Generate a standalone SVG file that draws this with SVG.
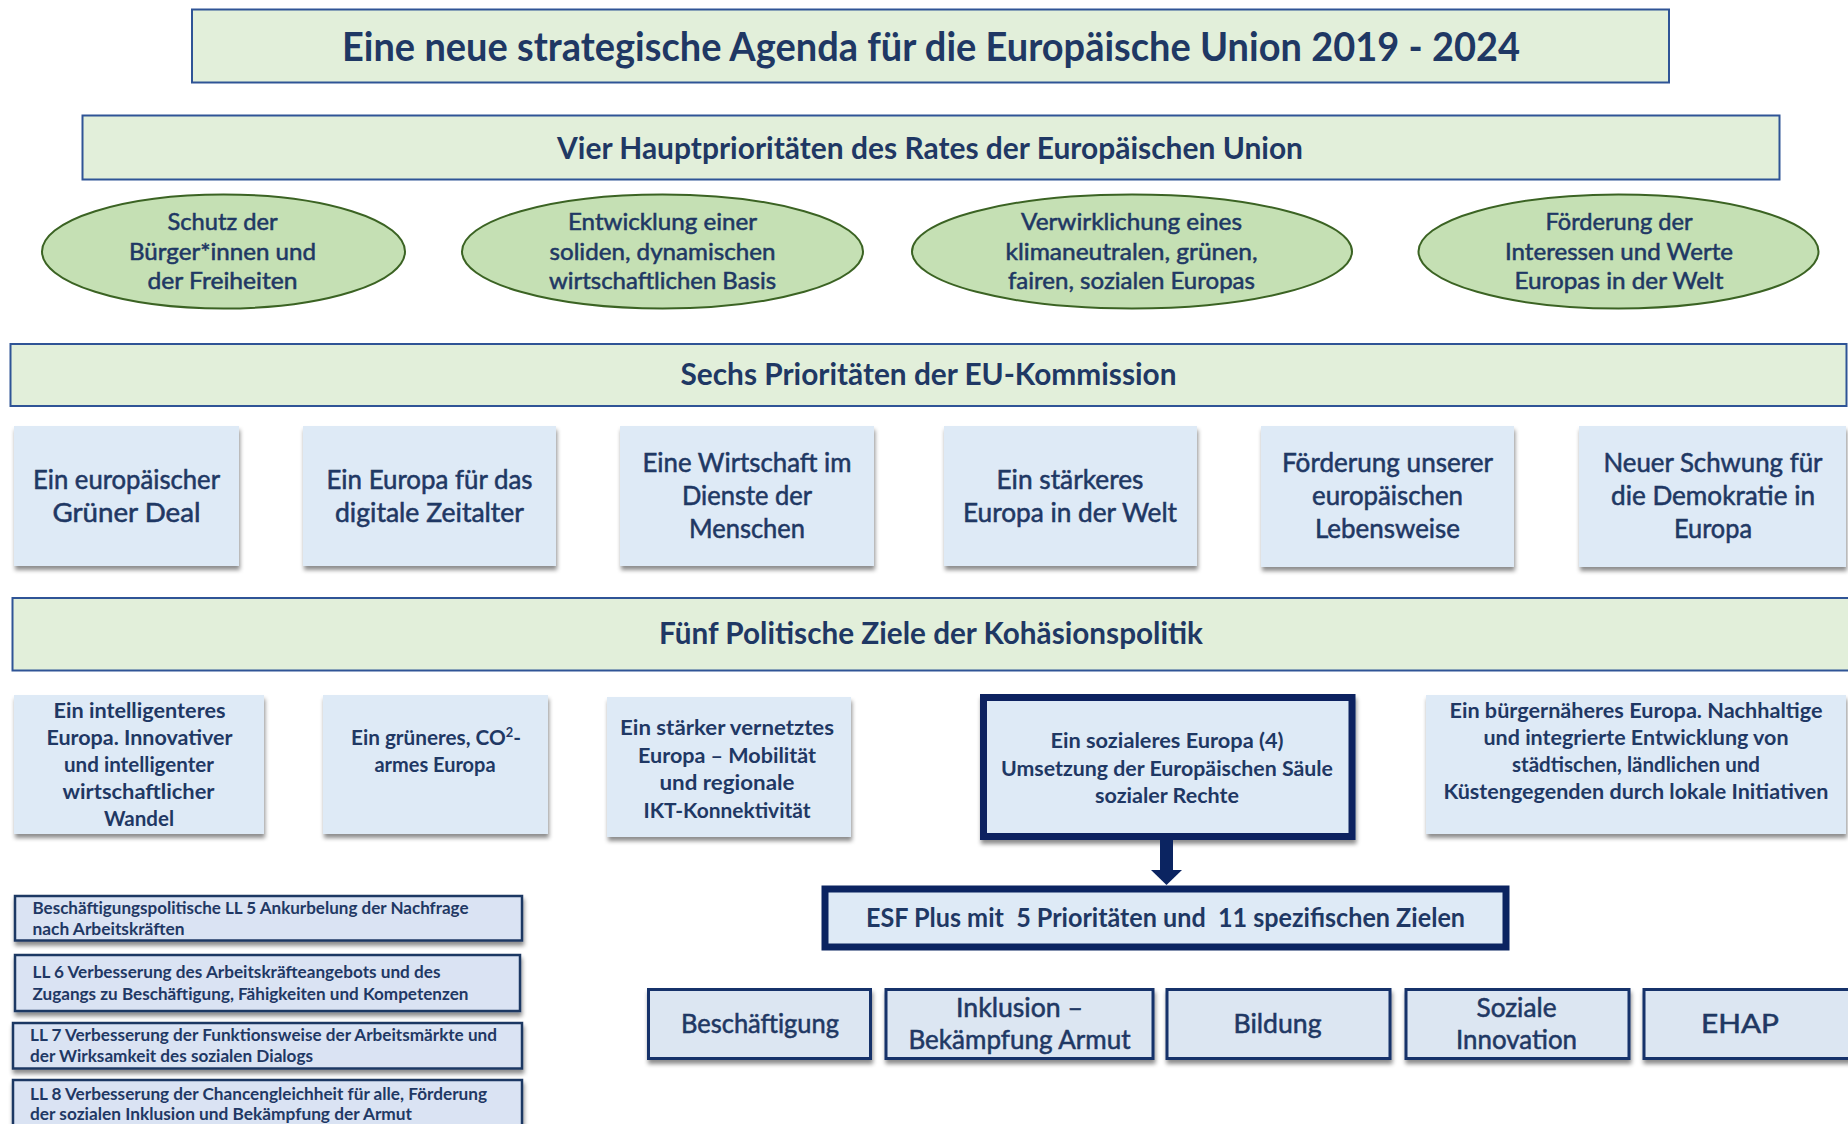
<svg xmlns="http://www.w3.org/2000/svg" width="1848" height="1124" viewBox="0 0 1848 1124">
<defs>
<filter id="sh" x="-10%" y="-10%" width="125%" height="130%">
<feDropShadow dx="1" dy="4" stdDeviation="2" flood-color="#000" flood-opacity="0.45"/>
</filter>
<style>
.hdr{fill:#E2EFDA;stroke:#2F5496;stroke-width:2}
.ell{fill:#C5E0B4;stroke:#3B6323;stroke-width:2}
.box{fill:#DEEAF6;filter:url(#sh)}
.thick{fill:#DEEAF6;stroke:#0B2461;stroke-width:7;filter:url(#sh)}
.esf{fill:#DEEAF6;stroke:#0B2461;stroke-width:7}
.cat{fill:#DCE6F2;stroke:#14306A;stroke-width:3;filter:url(#sh)}
.ll{fill:#DAE3F3;stroke:#1F3864;stroke-width:2.5;filter:url(#sh)}
text{font-family:Lato,"Liberation Sans",sans-serif;fill:#1F3864;text-anchor:middle}
.b{font-weight:bold}
.r{stroke:#1F3864;stroke-width:0.55}
.l{text-anchor:start}
.f38{font-size:40px}.f28{font-size:29.5px}.f22{font-size:24px}.f25{font-size:26.5px}.f20{font-size:21px}.f16{font-size:17px}
</style>
</defs>
<g id="title">
<rect class="hdr" x="192" y="9.5" width="1477" height="73"/>
<text class="b f38" x="931" y="60.5" textLength="1178" lengthAdjust="spacingAndGlyphs">Eine neue strategische Agenda für die Europäische Union 2019 - 2024</text>
</g>
<g id="hdr-rat">
<rect class="hdr" x="82.5" y="115.5" width="1697" height="64"/>
<text class="b f28" x="930" y="158.5" textLength="746" lengthAdjust="spacingAndGlyphs">Vier Hauptprioritäten des Rates der Europäischen Union</text>
</g>
<g id="ell-1">
<ellipse class="ell" cx="223.5" cy="251.5" rx="181.5" ry="57"/>
<text class="f22 r" x="222.5" y="230" textLength="110" lengthAdjust="spacingAndGlyphs">Schutz der</text>
<text class="f22 r" x="222.5" y="260" textLength="187" lengthAdjust="spacingAndGlyphs">Bürger*innen und</text>
<text class="f22 r" x="222.5" y="289" textLength="150" lengthAdjust="spacingAndGlyphs">der Freiheiten</text>
</g>
<g id="ell-2">
<ellipse class="ell" cx="662.5" cy="251.5" rx="200.5" ry="57"/>
<text class="f22 r" x="662.5" y="230" textLength="189" lengthAdjust="spacingAndGlyphs">Entwicklung einer</text>
<text class="f22 r" x="662.5" y="260" textLength="226" lengthAdjust="spacingAndGlyphs">soliden, dynamischen</text>
<text class="f22 r" x="662.5" y="289" textLength="227" lengthAdjust="spacingAndGlyphs">wirtschaftlichen Basis</text>
</g>
<g id="ell-3">
<ellipse class="ell" cx="1132" cy="251.5" rx="220" ry="57"/>
<text class="f22 r" x="1131.5" y="230" textLength="221" lengthAdjust="spacingAndGlyphs">Verwirklichung eines</text>
<text class="f22 r" x="1131.5" y="260" textLength="252" lengthAdjust="spacingAndGlyphs">klimaneutralen, grünen,</text>
<text class="f22 r" x="1131.5" y="289" textLength="247" lengthAdjust="spacingAndGlyphs">fairen, sozialen Europas</text>
</g>
<g id="ell-4">
<ellipse class="ell" cx="1618.5" cy="251.5" rx="200" ry="57"/>
<text class="f22 r" x="1619" y="230" textLength="147" lengthAdjust="spacingAndGlyphs">Förderung der</text>
<text class="f22 r" x="1619" y="260" textLength="228" lengthAdjust="spacingAndGlyphs">Interessen und Werte</text>
<text class="f22 r" x="1619" y="289" textLength="209" lengthAdjust="spacingAndGlyphs">Europas in der Welt</text>
</g>
<g id="hdr-kom">
<rect class="hdr" x="10.5" y="344" width="1836" height="62"/>
<text class="b f28" x="928.5" y="385" textLength="496" lengthAdjust="spacingAndGlyphs">Sechs Prioritäten der EU-Kommission</text>
</g>
<g id="kom-1">
<rect class="box" x="14" y="426" width="225" height="140"/>
<text class="f25 r" x="126.5" y="489" textLength="187" lengthAdjust="spacingAndGlyphs">Ein europäischer</text>
<text class="f25 r" x="126.5" y="522" textLength="148" lengthAdjust="spacingAndGlyphs">Grüner Deal</text>
</g>
<g id="kom-2">
<rect class="box" x="303" y="426" width="253" height="140"/>
<text class="f25 r" x="429.5" y="489" textLength="206" lengthAdjust="spacingAndGlyphs">Ein Europa für das</text>
<text class="f25 r" x="429.5" y="522" textLength="189" lengthAdjust="spacingAndGlyphs">digitale Zeitalter</text>
</g>
<g id="kom-3">
<rect class="box" x="620" y="426" width="254" height="140"/>
<text class="f25 r" x="747" y="472" textLength="209" lengthAdjust="spacingAndGlyphs">Eine Wirtschaft im</text>
<text class="f25 r" x="747" y="505" textLength="130" lengthAdjust="spacingAndGlyphs">Dienste der</text>
<text class="f25 r" x="747" y="538" textLength="116" lengthAdjust="spacingAndGlyphs">Menschen</text>
</g>
<g id="kom-4">
<rect class="box" x="944" y="426" width="253" height="140"/>
<text class="f25 r" x="1070" y="489" textLength="147" lengthAdjust="spacingAndGlyphs">Ein stärkeres</text>
<text class="f25 r" x="1070" y="522" textLength="214" lengthAdjust="spacingAndGlyphs">Europa in der Welt</text>
</g>
<g id="kom-5">
<rect class="box" x="1261" y="426" width="253" height="141"/>
<text class="f25 r" x="1387.5" y="472" textLength="211" lengthAdjust="spacingAndGlyphs">Förderung unserer</text>
<text class="f25 r" x="1387.5" y="505" textLength="151" lengthAdjust="spacingAndGlyphs">europäischen</text>
<text class="f25 r" x="1387.5" y="538" textLength="145" lengthAdjust="spacingAndGlyphs">Lebensweise</text>
</g>
<g id="kom-6">
<rect class="box" x="1579" y="426" width="267" height="141"/>
<text class="f25 r" x="1713" y="472" textLength="219" lengthAdjust="spacingAndGlyphs">Neuer Schwung für</text>
<text class="f25 r" x="1713" y="505" textLength="204" lengthAdjust="spacingAndGlyphs">die Demokratie in</text>
<text class="f25 r" x="1713" y="538" textLength="78" lengthAdjust="spacingAndGlyphs">Europa</text>
</g>
<g id="hdr-koh">
<rect class="hdr" x="12.5" y="598" width="1840" height="72.5"/>
<text class="b f28" x="931" y="644" textLength="544" lengthAdjust="spacingAndGlyphs">Fünf Politische Ziele der Kohäsionspolitik</text>
</g>
<g id="koh-1">
<rect class="box" x="14" y="695" width="250" height="139"/>
<text class="b f20" x="139.5" y="718" textLength="172" lengthAdjust="spacingAndGlyphs">Ein intelligenteres</text>
<text class="b f20" x="139.5" y="745" textLength="186" lengthAdjust="spacingAndGlyphs">Europa. Innovativer</text>
<text class="b f20" x="139" y="772" textLength="150" lengthAdjust="spacingAndGlyphs">und intelligenter</text>
<text class="b f20" x="138.5" y="799" textLength="152" lengthAdjust="spacingAndGlyphs">wirtschaftlicher</text>
<text class="b f20" x="139" y="826" textLength="70" lengthAdjust="spacingAndGlyphs">Wandel</text>
</g>
<g id="koh-2">
<rect class="box" x="323" y="695" width="225" height="139"/>
<text class="b f20" x="436" y="745" textLength="170" lengthAdjust="spacingAndGlyphs">Ein grüneres, CO<tspan font-size="13" dy="-8">2</tspan><tspan dy="8">-</tspan></text>
<text class="b f20" x="435" y="772" textLength="121" lengthAdjust="spacingAndGlyphs">armes Europa</text>
</g>
<g id="koh-3">
<rect class="box" x="607" y="697" width="244" height="140"/>
<text class="b f20" x="727" y="735" textLength="214" lengthAdjust="spacingAndGlyphs">Ein stärker vernetztes</text>
<text class="b f20" x="727" y="762.5" textLength="178" lengthAdjust="spacingAndGlyphs">Europa – Mobilität</text>
<text class="b f20" x="727" y="790" textLength="135" lengthAdjust="spacingAndGlyphs">und regionale</text>
<text class="b f20" x="727" y="817.5" textLength="167" lengthAdjust="spacingAndGlyphs">IKT-Konnektivität</text>
</g>
<g id="koh-4">
<rect class="thick" x="983.5" y="697.5" width="368.5" height="139"/>
<text class="b f20" x="1167" y="748" textLength="233" lengthAdjust="spacingAndGlyphs">Ein sozialeres Europa (4)</text>
<text class="b f20" x="1167" y="776" textLength="332" lengthAdjust="spacingAndGlyphs">Umsetzung der Europäischen Säule</text>
<text class="b f20" x="1167" y="803" textLength="144" lengthAdjust="spacingAndGlyphs">sozialer Rechte</text>
</g>
<g id="koh-5">
<rect class="box" x="1426" y="695" width="420" height="139"/>
<text class="b f20" x="1636" y="718" textLength="373" lengthAdjust="spacingAndGlyphs">Ein bürgernäheres Europa. Nachhaltige</text>
<text class="b f20" x="1636" y="745" textLength="305" lengthAdjust="spacingAndGlyphs">und integrierte Entwicklung von</text>
<text class="b f20" x="1636" y="772" textLength="248" lengthAdjust="spacingAndGlyphs">städtischen, ländlichen und</text>
<text class="b f20" x="1636" y="799" textLength="385" lengthAdjust="spacingAndGlyphs">Küstengegenden durch lokale Initiativen</text>
</g>
<g id="connectors">
<rect x="1160" y="840" width="13" height="31" fill="#0B2461"/>
<polygon points="1151,870 1182,870 1166.5,885" fill="#0B2461"/>
</g>
<g id="esf">
<rect class="esf" x="825" y="889" width="681" height="58"/>
<text class="b f25" x="1165.5" y="927" textLength="599" lengthAdjust="spacingAndGlyphs">ESF Plus mit&#160; 5 Prioritäten und&#160; 11 spezifischen Zielen</text>
</g>
<g id="ll-5">
<rect class="ll" x="15" y="896" width="507" height="44.5"/>
<text class="b f16 l" x="32.5" y="914" textLength="436" lengthAdjust="spacingAndGlyphs">Beschäftigungspolitische LL 5 Ankurbelung der Nachfrage</text>
<text class="b f16 l" x="32.5" y="935" textLength="152" lengthAdjust="spacingAndGlyphs">nach Arbeitskräften</text>
</g>
<g id="ll-6">
<rect class="ll" x="15" y="955" width="505" height="56"/>
<text class="b f16 l" x="32.5" y="978" textLength="408" lengthAdjust="spacingAndGlyphs">LL 6 Verbesserung des Arbeitskräfteangebots und des</text>
<text class="b f16 l" x="32.5" y="999.5" textLength="436" lengthAdjust="spacingAndGlyphs">Zugangs zu Beschäftigung, Fähigkeiten und Kompetenzen</text>
</g>
<g id="ll-7">
<rect class="ll" x="13" y="1023" width="509" height="45.5"/>
<text class="b f16 l" x="30" y="1040.5" textLength="467" lengthAdjust="spacingAndGlyphs">LL 7 Verbesserung der Funktionsweise der Arbeitsmärkte und</text>
<text class="b f16 l" x="30" y="1061.5" textLength="283" lengthAdjust="spacingAndGlyphs">der Wirksamkeit des sozialen Dialogs</text>
</g>
<g id="ll-8">
<rect class="ll" x="13" y="1080" width="509" height="60"/>
<text class="b f16 l" x="30" y="1100" textLength="457" lengthAdjust="spacingAndGlyphs">LL 8 Verbesserung der Chancengleichheit für alle, Förderung</text>
<text class="b f16 l" x="30" y="1120" textLength="382" lengthAdjust="spacingAndGlyphs">der sozialen Inklusion und Bekämpfung der Armut</text>
</g>
<g id="cat-1">
<rect class="cat" x="648.5" y="989.5" width="222" height="69"/>
<text class="f25 r" x="760" y="1033" textLength="158" lengthAdjust="spacingAndGlyphs">Beschäftigung</text>
</g>
<g id="cat-2">
<rect class="cat" x="886" y="989.5" width="267" height="69"/>
<text class="f25 r" x="1019.5" y="1017" textLength="127" lengthAdjust="spacingAndGlyphs">Inklusion –</text>
<text class="f25 r" x="1019.5" y="1049" textLength="222" lengthAdjust="spacingAndGlyphs">Bekämpfung Armut</text>
</g>
<g id="cat-3">
<rect class="cat" x="1167" y="989.5" width="223" height="69"/>
<text class="f25 r" x="1277.5" y="1033" textLength="88" lengthAdjust="spacingAndGlyphs">Bildung</text>
</g>
<g id="cat-4">
<rect class="cat" x="1406" y="989.5" width="223" height="69"/>
<text class="f25 r" x="1516.5" y="1017" textLength="80" lengthAdjust="spacingAndGlyphs">Soziale</text>
<text class="f25 r" x="1516.5" y="1049" textLength="121" lengthAdjust="spacingAndGlyphs">Innovation</text>
</g>
<g id="cat-5">
<rect class="cat" x="1644" y="989.5" width="210" height="69"/>
<text class="f25 r" x="1740" y="1033" textLength="78" lengthAdjust="spacingAndGlyphs">EHAP</text>
</g>
</svg>
